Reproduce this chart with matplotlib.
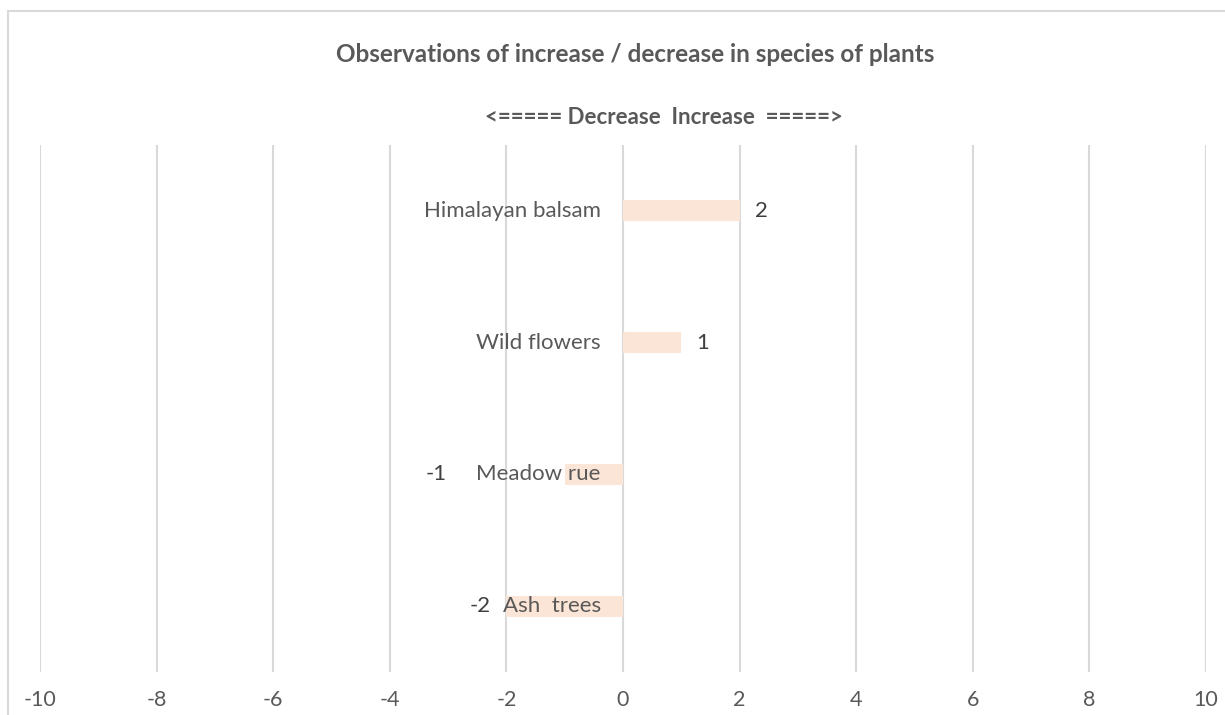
import matplotlib
matplotlib.use("Agg")
import matplotlib.pyplot as plt
from matplotlib.patches import Rectangle

# ---- data ----
categories = ["Himalayan balsam", "Wild flowers", "Meadow rue", "Ash  trees"]
values = [2, 1, -1, -2]
x_ticks = [-10, -8, -6, -4, -2, 0, 2, 4, 6, 8, 10]
title = "Observations of increase / decrease in species of plants"
subtitle = "<===== Decrease  Increase  =====>"

# ---- style ----
TEXT = "#595959"
GRID = "#D9D9D9"
BAR = "#FBE5D6"
plt.rcParams['font.family'] = ['Lato', 'DejaVu Sans']

W, H = 1225, 715
fig = plt.figure(figsize=(W / 100, H / 100), dpi=100)
fig.patch.set_facecolor("white")

# outer chart border (extends past right/bottom edges as in reference)
fig.add_artist(Rectangle((8 / W, -0.05), 1.2, 1 - 11 / H + 0.05,
                         transform=fig.transFigure, fill=False,
                         edgecolor=GRID, linewidth=1.5))

ax = fig.add_axes([40 / W, 1 - 672 / H, (1206 - 40) / W, (672 - 145) / H])
ypos = list(range(len(categories)))
ax.barh(ypos, values, height=0.16, color=BAR, zorder=2)
ax.set_xlim(-10, 10)
ax.set_ylim(len(categories) - 0.5, -0.5)
ax.set_xticks(x_ticks)
ax.set_xticklabels([str(t) for t in x_ticks])
ax.set_yticks([])
ax.tick_params(axis='x', length=0, pad=13, labelsize=15.5, labelcolor=TEXT)
for s in ax.spines.values():
    s.set_visible(False)
ax.grid(axis='x', color=GRID, linewidth=1.5, zorder=0)
ax.set_axisbelow(True)

# category labels (right-aligned just left of zero line)
for y, c in zip(ypos, categories):
    ax.text(-0.38, y, c, ha='right', va='center', fontsize=16,
            color=TEXT, zorder=3)

# value labels
label_x = [2.37, 1.37, -3.21, -2.45]
for y, v, lx in zip(ypos, values, label_x):
    ax.text(lx, y, str(v), ha='center', va='center', fontsize=16,
            color="#404040", zorder=3)

fig.text(635 / W, 1 - 55 / H, title, ha='center', va='center',
         fontsize=17.5, fontweight='bold', color=TEXT)
fig.text(664 / W, 1 - 117 / H, subtitle, ha='center', va='center',
         fontsize=16, fontweight='bold', color=TEXT)

fig.savefig("out.png", dpi=100)
